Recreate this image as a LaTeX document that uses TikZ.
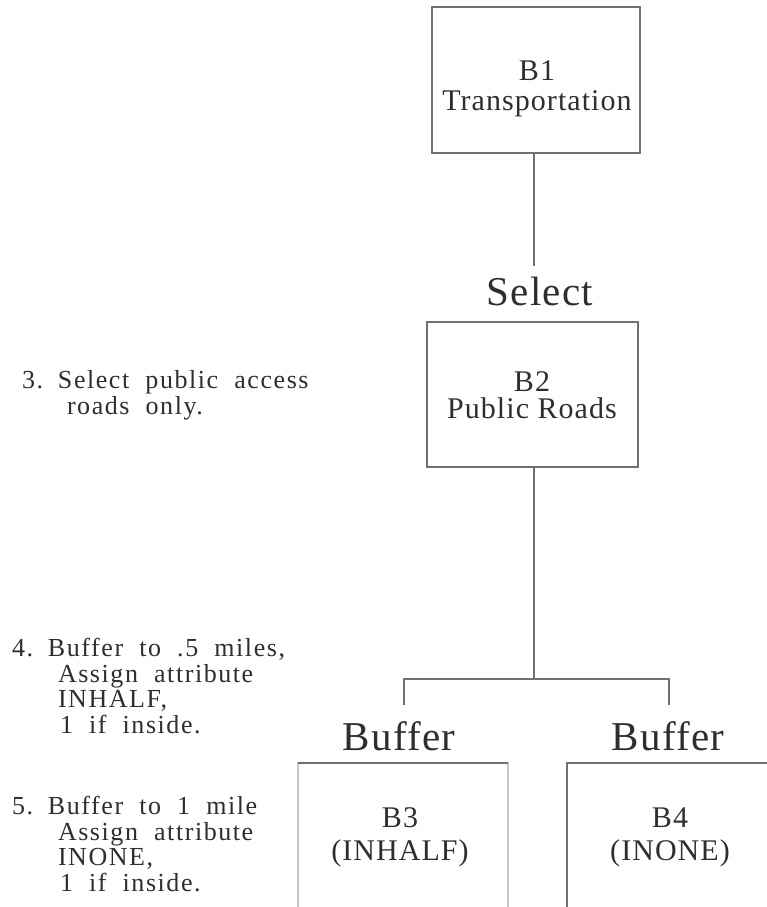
\documentclass[tikz,border=0pt]{standalone}
\usepackage{fontspec}
\setmainfont{Liberation Serif}
\newfontfamily\boxserif[LetterSpace=3.5]{Liberation Serif}
\newfontfamily\opserif[LetterSpace=3]{Liberation Serif}
\newfontfamily\noteserif[LetterSpace=6]{Liberation Serif}
\definecolor{ink}{HTML}{2E2E2E}
\definecolor{rule}{HTML}{707070}
\definecolor{faintrule}{HTML}{C8C8C8}
\newcommand\boxfontskip[1]{\boxserif\fontsize{30bp}{#1}\selectfont}
\newcommand\opfont{\opserif\fontsize{41bp}{41bp}\selectfont}
\newcommand\notefont{\noteserif\fontsize{26bp}{25.5bp}\selectfont\spaceskip=0.62em plus 0.1em\relax}

\begin{document}
\begin{tikzpicture}[x=1bp,y=-1bp,
  every node/.style={text=ink, inner sep=0pt, outer sep=0pt},
  conn/.style={draw=rule, line width=1.5bp},
  blockbox/.style={draw=rule, line width=1.5bp, anchor=north west},
  boxtext/.style={font={\boxfontskip{#1}}, align=center, anchor=base},
  optext/.style={font=\opfont, anchor=base},
  notetext/.style={font=\notefont, align=left, anchor=base west}]

\useasboundingbox (0,0) rectangle (767,907);

% process boxes (the lower two run off the bottom edge)
\node[blockbox, minimum width=208bp, minimum height=146bp] (b1) at (432,7) {};
\node[blockbox, minimum width=211bp, minimum height=145bp] (b2) at (427,322) {};
\node[blockbox, draw=faintrule, minimum width=210bp, minimum height=200bp] (b3) at (298,763) {};
\node[blockbox, minimum width=260bp, minimum height=200bp] (b4) at (567,763) {};
\draw[conn] (b3.north west) -- (b3.north east);

% box contents (anchored on the baseline of the last line)
\node[boxtext=30bp] (b1t) at (537,110) {B1\\Transportation};
\node[boxtext=27bp] (b2t) at (532,418) {B2\\Public Roads};
\node[boxtext=33bp] (b3t) at (400,860) {B3\\(INHALF)};
\node[boxtext=33bp] (b4t) at (670,860) {B4\\(INONE)};

% operation labels
\node[optext] (sel) at (540,305) {Select};
\node[optext] (buf1) at (399,750) {Buffer};
\node[optext] (buf2) at (668,750) {Buffer};

% connectors
\coordinate (seltop) at (534,266);
\coordinate (fork) at (534,679);
\coordinate (lt) at (404,705);
\coordinate (rt) at (669,705);
\draw[conn] (b1.south -| seltop) -- (seltop);
\draw[conn] (b2.south -| fork) -- (fork);
\draw[conn] (lt) |- (fork) -| (rt);

% step notes (anchored on the baseline of the last line)
\node[notetext] (n3) at (22,414) {\makebox[36bp][l]{3.}Select public access\\\hspace*{45bp}roads only.};
\node[notetext] (n4) at (12,733) {\makebox[36bp][l]{4.}Buffer to .5 miles,\\\hspace*{46bp}Assign attribute\\\hspace*{46bp}INHALF,\\\hspace*{48bp}1 if inside.};
\node[notetext] (n5) at (12,891) {\makebox[36bp][l]{5.}Buffer to 1 mile\\\hspace*{46bp}Assign attribute\\\hspace*{46bp}INONE,\\\hspace*{48bp}1 if inside.};
\end{tikzpicture}
\end{document}
